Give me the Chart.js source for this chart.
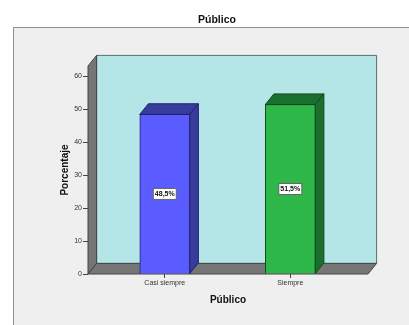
<!DOCTYPE html>
<html>
<head>
<meta charset="utf-8">
<style>html,body{margin:0;padding:0;background:#fff}canvas{display:block}</style>
<script src="https://cdn.jsdelivr.net/npm/chart.js@4/dist/chart.umd.min.js"></script>
</head>
<body>
<canvas id="chart" width="409" height="325"></canvas>
<script>
// Survey answers for the "Público" item, as percentages.
const categories = ['Casi siempre', 'Siempre'];
const percentages = [48.5, 51.5];
const yTickValues = [0, 10, 20, 30, 40, 50, 60];
const frontColors = ['#5a5cff', '#2eb84a'];
const darkColors = ['#383c9c', '#1b6f2e'];
const outlineColors = ['#20226e', '#104a1e'];

const FONT = '"Liberation Sans", Arial, sans-serif';
const DEPTH_X = 8.6, DEPTH_Y = 10.6;

function poly(ctx, pts, fill, stroke, lw) {
  ctx.beginPath();
  pts.forEach((p, i) => i ? ctx.lineTo(p[0], p[1]) : ctx.moveTo(p[0], p[1]));
  ctx.closePath();
  ctx.fillStyle = fill;
  ctx.fill();
  ctx.strokeStyle = stroke;
  ctx.lineWidth = lw;
  ctx.stroke();
}

// Panel behind the chart, the 3D box walls, bar depth faces and value labels.
const box3d = {
  id: 'box3d',
  afterLayout(chart) {
    // Title is centred over the panel's offset span rather than the full canvas.
    chart.titleBlock.left = 25;
    chart.titleBlock.right = 409;
  },
  beforeDraw(chart) {
    const c = chart.ctx;
    c.save();
    c.fillStyle = '#efefef';
    c.fillRect(13, 27, 396, 298);
    c.strokeStyle = '#8f8f8f';
    c.lineWidth = 1;
    c.beginPath();
    c.moveTo(13.5, 325); c.lineTo(13.5, 27.5); c.lineTo(409, 27.5);
    c.stroke();
    c.restore();
  },
  beforeDatasetsDraw(chart) {
    const c = chart.ctx, a = chart.chartArea;
    const l = a.left, r = a.right, t = a.top, b = a.bottom;
    c.save();
    c.lineJoin = 'miter';
    poly(c, [[l + DEPTH_X, t - DEPTH_Y], [r + DEPTH_X, t - DEPTH_Y], [r + DEPTH_X, b - DEPTH_Y], [l + DEPTH_X, b - DEPTH_Y]], '#b5e6e7', '#5b6f70', 1);
    poly(c, [[l, t], [l + DEPTH_X, t - DEPTH_Y], [l + DEPTH_X, b - DEPTH_Y], [l, b]], '#767676', '#444', 1);
    poly(c, [[l, b], [l + DEPTH_X, b - DEPTH_Y], [r + DEPTH_X, b - DEPTH_Y], [r, b]], '#767676', '#444', 1);
    const bars = chart.getDatasetMeta(0).data;
    bars.forEach((bar, i) => {
      const x0 = bar.x - bar.width / 2, x1 = bar.x + bar.width / 2;
      poly(c, [[x0, bar.y], [x0 + DEPTH_X, bar.y - DEPTH_Y], [x1 + DEPTH_X, bar.y - DEPTH_Y], [x1, bar.y]], darkColors[i], outlineColors[i], 1);
      poly(c, [[x1, bar.y], [x1 + DEPTH_X, bar.y - DEPTH_Y], [x1 + DEPTH_X, bar.base - DEPTH_Y], [x1, bar.base]], darkColors[i], outlineColors[i], 1);
    });
    c.restore();
  },
  afterDatasetsDraw(chart) {
    const c = chart.ctx;
    c.save();
    c.font = 'bold 7px ' + FONT;
    c.textAlign = 'center';
    c.textBaseline = 'middle';
    chart.getDatasetMeta(0).data.forEach((bar, i) => {
      const text = percentages[i].toFixed(1).replace('.', ',') + '%';
      const cy = (bar.y + bar.base) / 2;
      c.fillStyle = '#fff';
      c.strokeStyle = '#666';
      c.lineWidth = 1;
      c.fillRect(bar.x - 11.5, cy - 5.5, 23, 11);
      c.strokeRect(bar.x - 11.5, cy - 5.5, 23, 11);
      c.fillStyle = '#111';
      c.fillText(text, bar.x, cy + 0.5);
    });
    c.restore();
  }
};

new Chart(document.getElementById('chart'), {
  type: 'bar',
  data: {
    datasets: [{
      data: percentages.map((v, i) => ({ x: i, y: v })),
      backgroundColor: frontColors,
      borderColor: outlineColors,
      borderWidth: 1,
      barThickness: 50
    }]
  },
  plugins: [box3d],
  options: {
    responsive: false,
    animation: false,
    layout: { padding: { top: 0, left: 0, right: 41, bottom: 0 } },
    plugins: {
      legend: { display: false },
      tooltip: { enabled: false },
      title: {
        display: true,
        text: 'Público',
        color: '#111',
        font: { family: FONT, size: 10.5, weight: 'bold' },
        padding: { top: 14, bottom: 39.4 }
      }
    },
    scales: {
      x: {
        type: 'linear',
        offset: false,
        min: -0.6116,
        max: 1.619,
        afterBuildTicks(s) { s.ticks = categories.map((_, i) => ({ value: i })); },
        afterFit(s) { s.height = 51; },
        border: { display: false },
        grid: { display: true, offset: false, drawOnChartArea: false, drawTicks: true, tickLength: 4, tickColor: '#444' },
        ticks: {
          autoSkip: false,
          maxRotation: 0,
          padding: 1,
          color: '#333',
          font: { family: FONT, size: 7 },
          callback: v => categories[v]
        },
        title: {
          display: true,
          text: 'Público',
          color: '#111',
          font: { family: FONT, size: 10, weight: 'bold' },
          padding: { top: 0, bottom: 19 }
        }
      },
      y: {
        min: 0,
        max: 63.2,
        afterBuildTicks(s) { s.ticks = yTickValues.map(v => ({ value: v })); },
        afterFit(s) { s.width = 88; },
        border: { display: false },
        grid: { display: true, drawOnChartArea: false, drawTicks: true, tickLength: 5, tickColor: '#444' },
        ticks: {
          padding: 1,
          color: '#333',
          font: { family: FONT, size: 7 }
        },
        title: {
          display: true,
          text: 'Porcentaje',
          color: '#111',
          font: { family: FONT, size: 10, weight: 'bold' },
          padding: { top: 59, bottom: 0 }
        }
      }
    }
  }
});
</script>
</body>
</html>
